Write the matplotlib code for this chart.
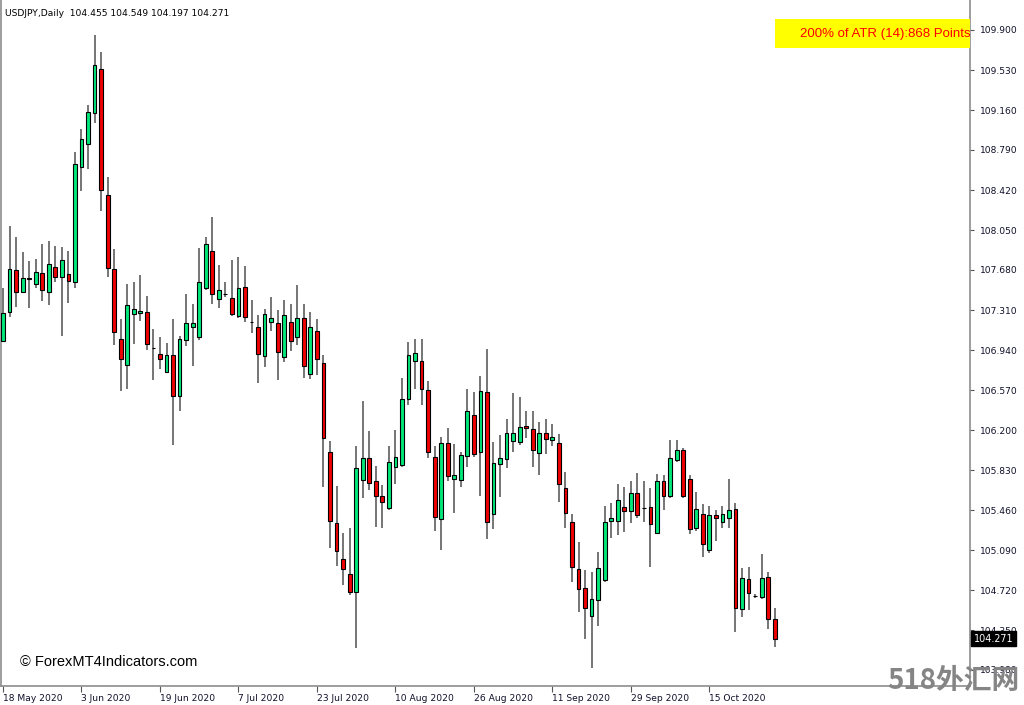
import matplotlib
matplotlib.use("Agg")
import matplotlib.pyplot as plt
import matplotlib.transforms as mtransforms
from matplotlib.patches import Rectangle
import numpy as np

# ---------------- data ----------------
symbol_title = "USDJPY,Daily  104.455 104.549 104.197 104.271"
atr_text = "200% of ATR (14):868 Points"
watermark = "\u00a9 ForexMT4Indicators.com"
site_mark = "518外汇网"
last_price = 104.271

opens = [
    107.020, 107.295, 107.680, 107.480, 107.603, 107.547, 107.655, 107.473, 107.711, 107.612,
    107.640, 107.572, 108.633, 108.842, 109.129, 109.542, 108.377, 107.686, 107.039, 106.801,
    107.276, 107.279, 107.295, 106.955, 106.903, 106.740, 106.894, 106.515, 107.032, 107.156,
    107.057, 107.510, 107.856, 107.409, 107.461, 107.424, 107.255, 107.520, 107.199, 107.150,
    106.884, 107.202, 107.187, 106.878, 107.196, 107.057, 107.236, 106.715, 107.116, 106.817,
    106.000, 105.337, 105.007, 104.868, 104.698, 105.738, 105.938, 105.728, 105.593, 105.475,
    105.855, 105.876, 106.484, 106.838, 106.838, 106.567, 105.947, 105.377, 106.077, 105.744,
    105.734, 105.963, 106.339, 105.993, 106.555, 105.420, 105.882, 105.932, 106.101, 106.092,
    106.237, 106.209, 105.984, 106.175, 106.108, 106.077, 105.667, 105.352, 104.911, 104.735,
    104.480, 104.628, 104.812, 105.361, 105.361, 105.491, 105.454, 105.620, 105.482, 105.491,
    105.250, 105.728, 105.589, 105.919, 106.015, 105.747, 105.297, 105.420, 105.090, 105.417,
    105.346, 105.386, 105.466, 104.541, 104.819, 104.665, 104.658, 104.837, 104.455]

highs = [
    107.510, 108.087, 107.982, 107.850, 107.763, 107.779, 107.924, 107.948, 107.902, 107.893,
    107.856, 108.772, 108.984, 109.203, 109.854, 109.693, 108.543, 107.871, 107.227, 107.551,
    107.569, 107.634, 107.443, 107.131, 107.057, 107.008, 107.224, 107.070, 107.455, 107.366,
    107.880, 107.988, 108.167, 107.726, 107.572, 107.773, 107.797, 107.717, 107.402, 107.264,
    107.319, 107.427, 107.310, 107.402, 107.365, 107.541, 107.365, 107.288, 107.227, 106.894,
    106.101, 105.685, 105.244, 105.290, 106.052, 106.471, 106.191, 105.867, 105.691, 106.052,
    106.200, 106.684, 107.011, 107.042, 107.042, 106.653, 106.052, 106.138, 106.215, 106.067,
    105.993, 106.576, 106.555, 106.700, 106.946, 106.092, 106.154, 106.299, 106.545, 106.502,
    106.379, 106.379, 106.274, 106.299, 106.252, 106.163, 105.808, 105.423, 105.167, 104.905,
    104.890, 105.068, 105.497, 105.522, 105.700, 105.676, 105.728, 105.805, 105.728, 105.660,
    105.790, 105.784, 106.107, 106.107, 106.037, 105.784, 105.623, 105.515, 105.497, 105.460,
    105.500, 105.747, 105.522, 104.920, 104.936, 104.686, 105.053, 104.883, 104.549]

lows = [
    107.010, 107.242, 107.335, 107.464, 107.325, 107.517, 107.396, 107.356, 107.566, 107.073,
    107.372, 107.510, 108.414, 108.614, 109.043, 108.229, 107.618, 106.986, 106.564, 106.576,
    106.996, 107.208, 106.940, 106.663, 106.764, 106.724, 106.061, 106.376, 106.980, 106.792,
    107.032, 107.495, 107.362, 107.332, 107.427, 107.255, 107.239, 107.202, 107.094, 106.632,
    106.786, 107.116, 106.663, 106.826, 106.934, 106.986, 106.678, 106.672, 106.709, 105.670,
    105.105, 104.945, 104.766, 104.674, 104.180, 105.574, 105.645, 105.306, 105.290, 105.460,
    105.701, 105.861, 106.428, 106.576, 106.428, 105.938, 105.269, 105.090, 105.731, 105.435,
    105.676, 105.861, 105.953, 105.593, 105.192, 105.284, 105.583, 105.845, 106.000, 106.061,
    106.123, 105.855, 105.784, 105.978, 106.052, 105.537, 105.297, 104.797, 104.513, 104.264,
    103.996, 104.390, 104.797, 105.198, 105.229, 105.253, 105.337, 105.389, 105.352, 104.930,
    105.238, 105.460, 105.568, 105.907, 105.574, 105.235, 105.269, 105.028, 105.059, 105.176,
    105.297, 105.297, 104.328, 104.467, 104.535, 104.643, 104.634, 104.362, 104.197]

closes = [
    107.285, 107.686, 107.480, 107.603, 107.594, 107.665, 107.495, 107.732, 107.618, 107.773,
    107.581, 108.664, 108.892, 109.138, 109.579, 108.417, 107.699, 107.110, 106.854, 107.353,
    107.316, 107.301, 106.999, 106.958, 106.860, 106.894, 106.515, 107.039, 107.187, 107.187,
    107.572, 107.917, 107.458, 107.495, 107.458, 107.276, 107.510, 107.248, 107.196, 106.906,
    107.270, 107.236, 106.922, 107.264, 107.023, 107.236, 106.795, 107.150, 106.854, 106.123,
    105.361, 105.078, 104.911, 104.705, 105.845, 105.938, 105.713, 105.593, 105.537, 105.901,
    105.953, 106.484, 106.894, 106.915, 106.576, 105.993, 105.392, 106.083, 105.775, 105.781,
    105.969, 106.379, 105.975, 106.561, 105.346, 105.892, 105.938, 106.175, 106.175, 106.225,
    106.215, 106.015, 106.169, 106.114, 106.138, 105.697, 105.429, 104.930, 104.726, 104.550,
    104.637, 104.920, 105.346, 105.383, 105.553, 105.454, 105.614, 105.414, 105.480, 105.331,
    105.728, 105.589, 105.938, 106.015, 105.593, 105.287, 105.469, 105.149, 105.417, 105.383,
    105.420, 105.460, 104.557, 104.828, 104.689, 104.665, 104.828, 104.455, 104.271]

date_labels = ["18 May 2020", "3 Jun 2020", "19 Jun 2020", "7 Jul 2020", "23 Jul 2020",
               "10 Aug 2020", "26 Aug 2020", "11 Sep 2020", "29 Sep 2020", "15 Oct 2020"]
bars_between_labels = 12

price_ticks = [109.900, 109.530, 109.160, 108.790, 108.420, 108.050, 107.680, 107.310,
               106.940, 106.570, 106.200, 105.830, 105.460, 105.090, 104.720, 104.350, 103.980]

# ---------------- figure ----------------
W, H = 1024, 705
fig = plt.figure(figsize=(W / 100, H / 100), dpi=100)
fig.patch.set_facecolor("white")

ax_left, ax_right, ax_top, ax_bottom = 1, 970, 0, 686
ax = fig.add_axes([ax_left / W, (H - ax_bottom) / H,
                   (ax_right - ax_left) / W, (ax_bottom - ax_top) / H])
ax.set_facecolor("white")

o = np.array(opens); h = np.array(highs); l = np.array(lows); c = np.array(closes)
x = np.arange(len(o))
bull = c >= o

GREEN = "#00E87A"
RED = "#F00000"
WICK = "#505050"

ax.vlines(x, l, h, color=WICK, linewidth=1.1, zorder=2)
body_h = c - o
ax.bar(x, body_h, bottom=o, width=0.58,
       color=np.where(bull, GREEN, RED), edgecolor="black", linewidth=0.8, zorder=3)

ax.set_xlim(-0.306, 147.86)
ax.set_ylim(103.832, 110.1775)

# spines
ax.spines["top"].set_visible(False)
for s in ["left", "bottom", "right"]:
    ax.spines[s].set_color("#8c8c8c")
    ax.spines[s].set_linewidth(1.2)

# y ticks on right
ax.yaxis.tick_right()
ax.set_yticks(price_ticks)
ax.set_yticklabels([f"{p:.3f}" for p in price_ticks])
ax.tick_params(axis="y", direction="out", length=3, width=0.8, color="#555555",
               pad=4, labelsize=6.6, labelcolor="#10102a")

# x ticks
xt = np.arange(len(date_labels)) * bars_between_labels
ax.set_xticks(xt)
ax.set_xticklabels(date_labels)
ax.tick_params(axis="x", direction="out", length=4, width=0.8, color="#555555",
               pad=1.5, labelsize=6.6, labelcolor="#10102a")
for lab in ax.get_xticklabels():
    lab.set_horizontalalignment("left")

# title text
fig.text(5 / W, 1 - 13 / H, symbol_title, fontsize=6.6, family="DejaVu Sans",
         color="black", ha="left", va="center")

# ATR yellow box
fig.patches.append(Rectangle((775 / W, 1 - 48 / H), (ax_right - 775) / W, 29 / H,
                             transform=fig.transFigure, facecolor="#FFFF00",
                             edgecolor="none", zorder=5))
fig.text(971 / W, 1 - 34 / H, atr_text, fontsize=9.5, family="Liberation Sans",
         color="#FF0000", ha="right", va="center", zorder=6)

# watermark bottom-left
fig.text(20 / W, 1 - 662 / H, watermark, fontsize=10.5, family="Liberation Sans",
         color="black", ha="left", va="center")

# current price label
trans = mtransforms.blended_transform_factory(ax.transAxes, ax.transData)
ax.text(1.004, last_price, f"{last_price:.3f}", transform=trans, fontsize=6.9,
        color="white", ha="left", va="center", family="DejaVu Sans",
        bbox=dict(boxstyle="square,pad=0.25", facecolor="black", edgecolor="black"),
        clip_on=False, zorder=7)

# site mark bottom-right
fig.text(953 / W, 1 - 681 / H, site_mark, fontsize=20, fontweight="heavy",
         family=["Noto Sans CJK SC", "DejaVu Sans"], color="#858585",
         ha="center", va="center", zorder=8)

fig.savefig("out.png", dpi=100, facecolor="white")
